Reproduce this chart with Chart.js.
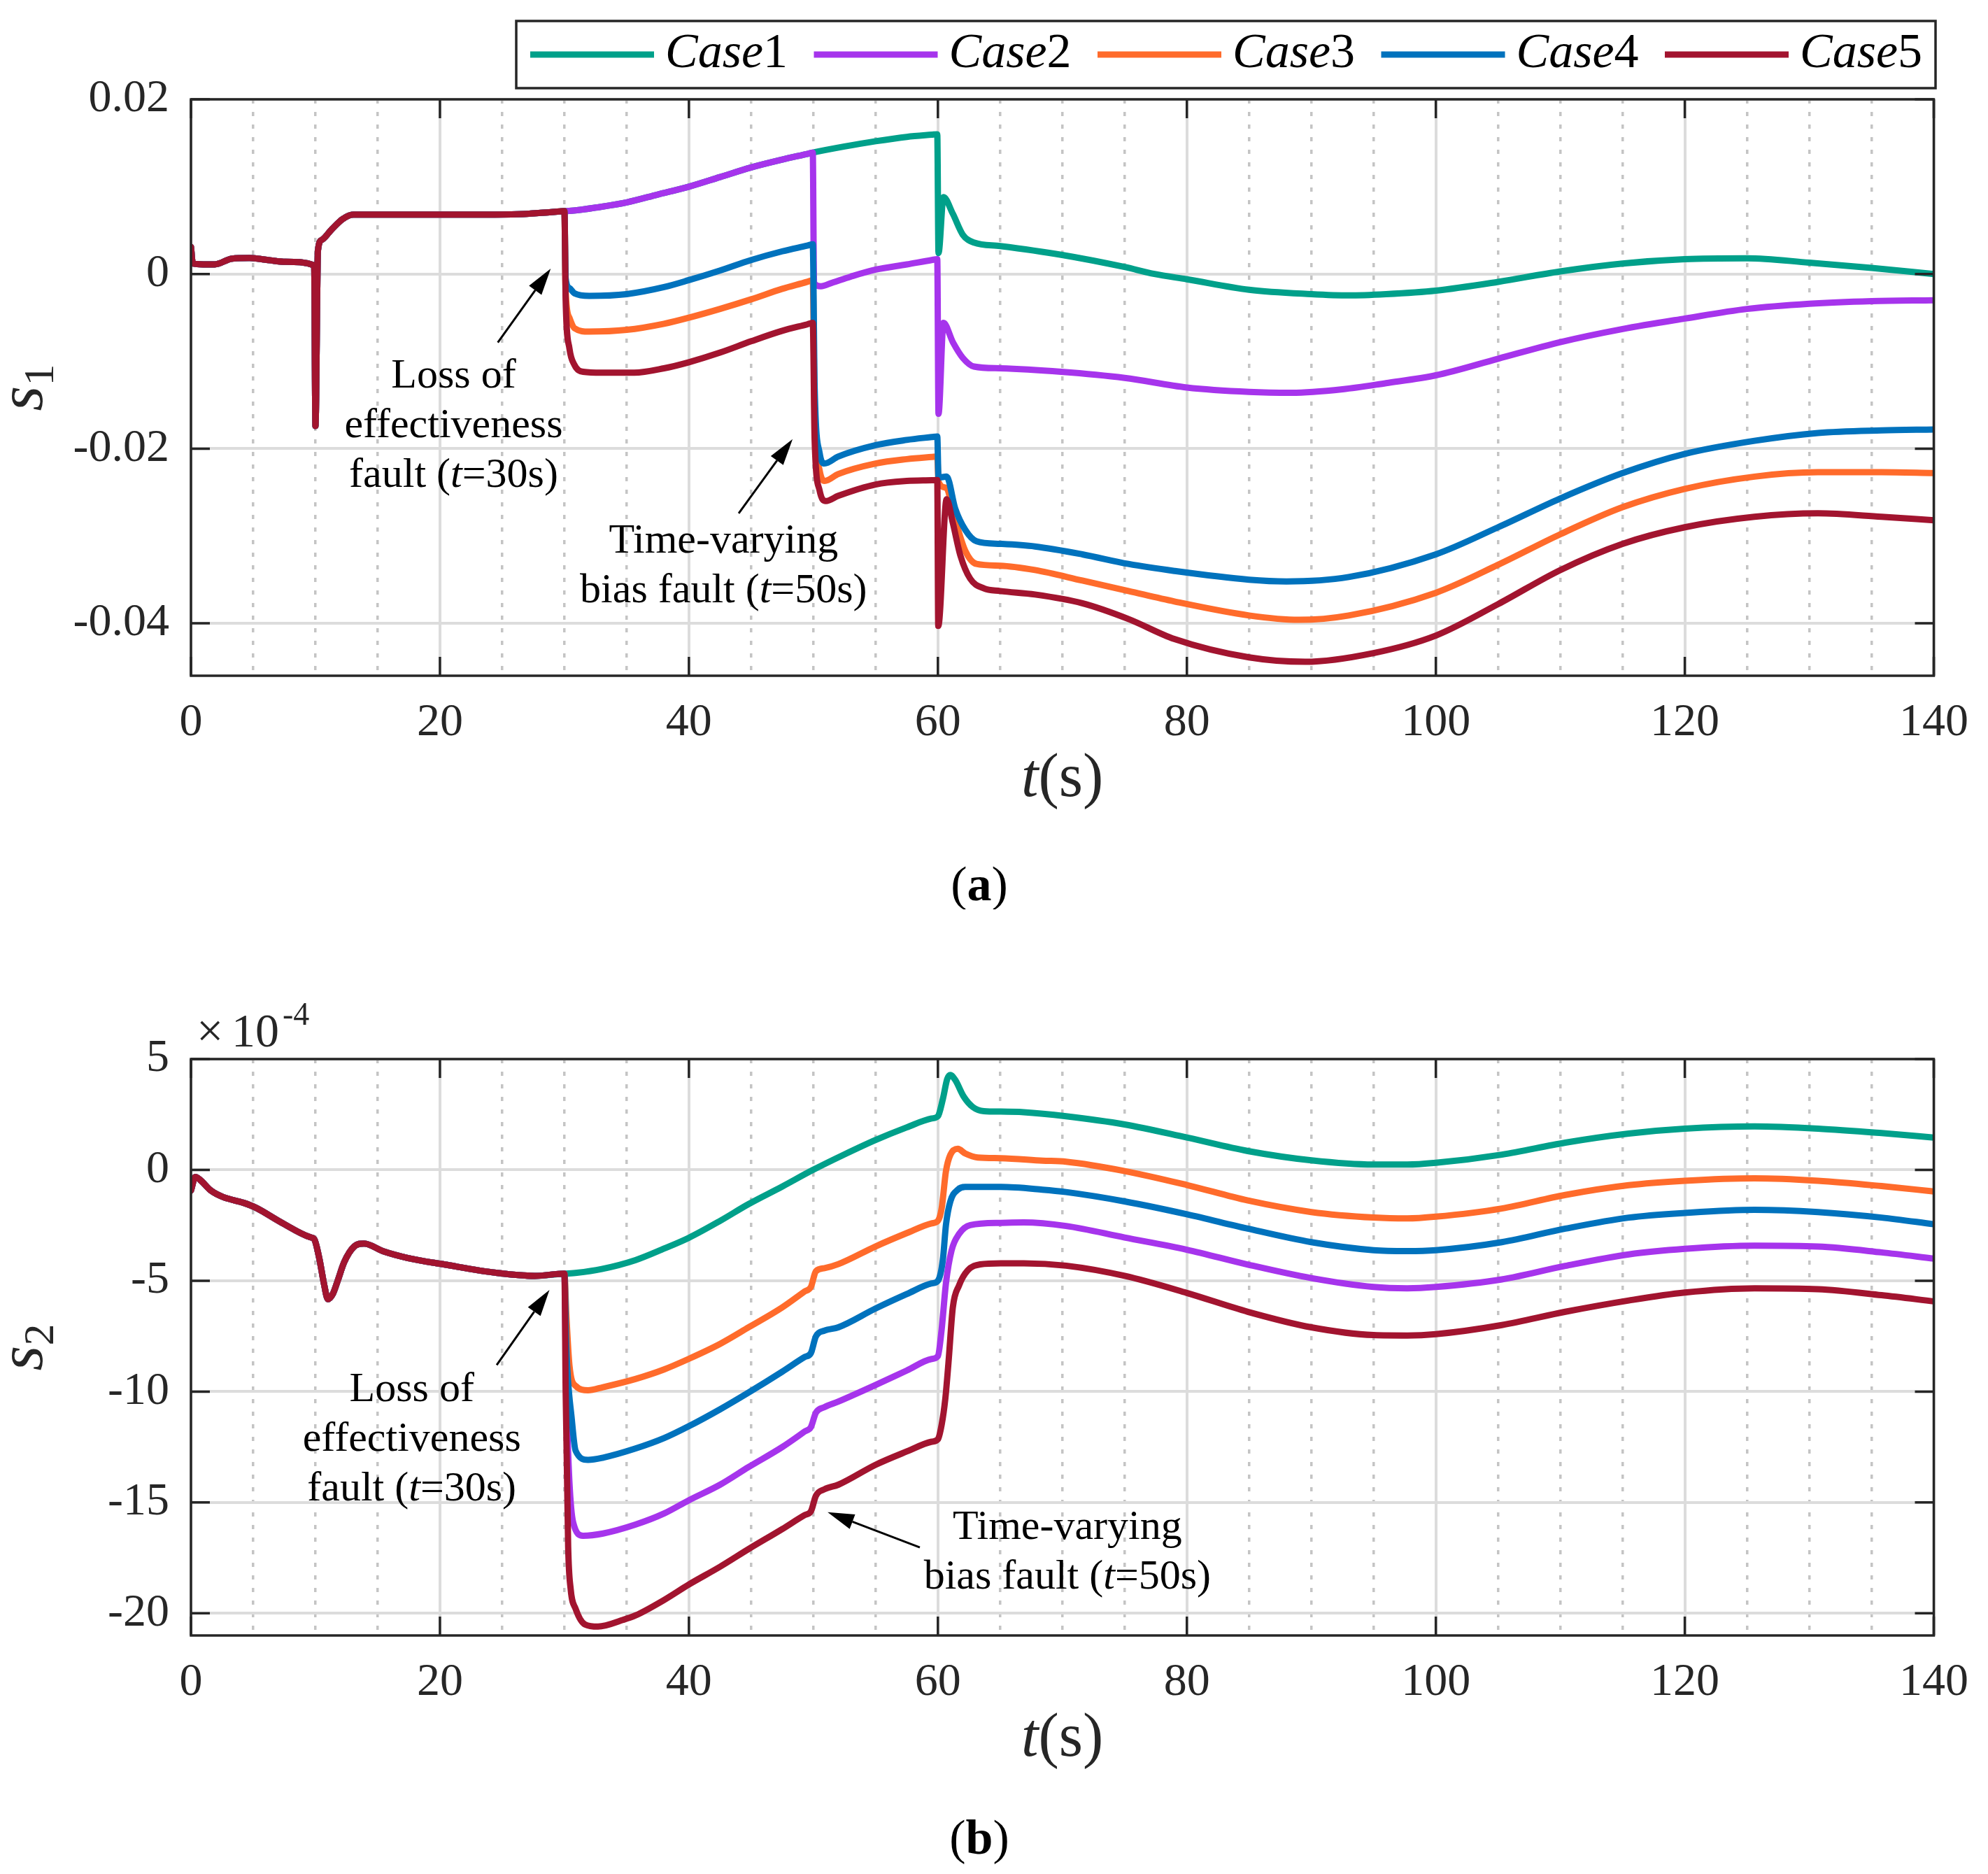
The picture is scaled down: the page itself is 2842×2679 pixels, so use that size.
<!DOCTYPE html>
<html>
<head>
<meta charset="utf-8">
<title>Sliding variables s1 and s2 under faults</title>
<script src="https://cdn.jsdelivr.net/npm/chart.js@4.4.1/dist/chart.umd.min.js"></script>
<style>
html, body { margin:0; padding:0; background:#ffffff; }
body { width:2842px; height:2679px; position:relative; overflow:hidden; }
canvas { position:absolute; left:0; }
#cA { top:0; }
#cB { top:1372px; }
</style>
</head>
<body>
<canvas id="cA" width="2842" height="1300"></canvas>
<canvas id="cB" width="2842" height="1307"></canvas>
<script>
// ================= DATA =================
const seriesNames  = ['Case1', 'Case2', 'Case3', 'Case4', 'Case5'];
const seriesColors = ['#00A08A', '#A634EC', '#FF6B2B', '#0072BD', '#A2142F'];

const xTickValues      = [0, 20, 40, 60, 80, 100, 120, 140];
const xTickLabels      = ['0', '20', '40', '60', '80', '100', '120', '140'];
const xMinorTickValues = [5, 10, 15, 25, 30, 35, 45, 50, 55, 65, 70, 75, 85, 90, 95, 105, 110, 115, 125, 130, 135];

const s1TickValues = [0.02, 0, -0.02, -0.04];
const s1TickLabels = ['0.02', '0', '-0.02', '-0.04'];
const s2TickValues = [5, 0, -5, -10, -15, -20];
const s2TickLabels = ['5', '0', '-5', '-10', '-15', '-20'];

// ---- (a) s1 : common part for all cases (t <= 30 s)
const s1PreT = [0, 0.15, 1.0, 1.9, 3.3, 4.7, 6.2, 7.6, 9.9, 10.0, 10.2, 10.5, 11.3, 12.2, 13.05, 14.8, 20, 26.3, 29.1, 30];
const s1PreV = [0.0031, 0.0012, 0.0011, 0.0011, 0.00176, 0.00184, 0.0016, 0.0014, 0.0010, -0.0174, 0.0027, 0.0039, 0.0051, 0.0063, 0.0068, 0.0068, 0.0068, 0.00685, 0.0071, 0.0072];
// ---- (a) s1 : Case1 and Case2 coincide between 30 s and 50 s
const s1RiseT = [31, 32.5, 35, 37.5, 40, 42.5, 45, 47.5, 49.5, 49.95];
const s1RiseV = [0.0073, 0.0076, 0.0082, 0.0091, 0.0100, 0.0111, 0.0122, 0.0131, 0.01375, 0.0139];
const s1Case1T = [52.5, 55, 57.5, 59.5, 59.95, 60.05, 60.45, 61.2, 62, 62.9, 65, 69.9, 75, 77.4, 80, 85, 90, 93, 96, 100, 105, 110, 115, 120, 125, 130, 135, 140];
const s1Case1V = [0.0146, 0.0152, 0.0157, 0.01595, 0.0160, 0.0024, 0.0088, 0.0069, 0.0045, 0.0036, 0.0032, 0.0022, 0.0008, 0.0000, -0.0006, -0.0018, -0.0023, -0.00245, -0.0023, -0.0019, -0.0009, 0.0003, 0.0012, 0.0017, 0.0018, 0.0013, 0.0007, 0.0000];
const s1Case2T = [50.05, 50.6, 51.5, 53, 55, 57.5, 59.5, 59.95, 60.05, 60.45, 61.2, 62, 62.9, 65, 69.9, 75, 80, 85, 88.4, 92.5, 96, 100, 105, 110, 115, 120, 125, 130, 135, 140];
const s1Case2V = [-0.0010, -0.0014, -0.0010, -0.0003, 0.0005, 0.0011, 0.0016, 0.0017, -0.0160, -0.0056, -0.0078, -0.0096, -0.0106, -0.0108, -0.0112, -0.0119, -0.0130, -0.0135, -0.0136, -0.0132, -0.0125, -0.0116, -0.0097, -0.0078, -0.0063, -0.0051, -0.0040, -0.0034, -0.0031, -0.0030];
const s1Case3T = [30.1, 30.4, 30.8, 32, 35, 38, 40, 42.5, 45, 47.5, 49.5, 49.95, 50.1, 50.5, 50.9, 52, 55, 57.5, 59.5, 59.95, 60.05, 60.65, 61.4, 62.2, 63.1, 65, 67.8, 71.6, 75.3, 79, 85, 89, 93, 100, 105, 110, 115, 120, 125.6, 130.7, 135.8, 140];
const s1Case3V = [-0.0020, -0.0050, -0.0062, -0.0066, -0.0064, -0.0057, -0.0050, -0.0040, -0.0029, -0.0017, -0.0009, -0.0007, -0.0160, -0.0225, -0.0237, -0.0229, -0.0217, -0.0212, -0.02095, -0.0209, -0.0238, -0.0245, -0.0282, -0.0317, -0.0332, -0.0334, -0.0339, -0.0351, -0.0363, -0.0375, -0.0391, -0.0396, -0.0391, -0.0365, -0.0333, -0.0298, -0.0267, -0.0246, -0.0232, -0.0227, -0.0227, -0.0228];
const s1Case4T = [30.1, 30.4, 30.8, 32, 35, 38, 40, 42.5, 45, 47.5, 49.5, 49.95, 50.1, 50.5, 50.9, 52, 55, 57.5, 59.5, 59.95, 60.05, 60.7, 61.4, 62.2, 63.1, 65, 67.8, 71.6, 75.3, 79, 85, 88, 93, 100, 105, 110, 115, 120, 125.6, 130.7, 135.8, 140];
const s1Case4V = [-0.0005, -0.0016, -0.0022, -0.0025, -0.0023, -0.0015, -0.0007, 0.0004, 0.0016, 0.0026, 0.00325, 0.0034, -0.0130, -0.0205, -0.0217, -0.0209, -0.0196, -0.0190, -0.01867, -0.0186, -0.0233, -0.0232, -0.0269, -0.0293, -0.0306, -0.0309, -0.0312, -0.0321, -0.0332, -0.0340, -0.0350, -0.0352, -0.0347, -0.0321, -0.0290, -0.0257, -0.0228, -0.0206, -0.0191, -0.0182, -0.0179, -0.0178];
const s1Case5T = [30.1, 30.4, 30.8, 31.5, 33, 35.6, 38, 40, 42.5, 45, 47.5, 49.5, 49.95, 50.1, 50.5, 51, 52, 55, 57.5, 59.5, 59.95, 60.03, 60.7, 61.2, 61.8, 62.6, 63.7, 65, 67.8, 71.6, 75.3, 79, 85, 89.5, 95, 100, 105, 110, 115, 120, 125.6, 130.7, 135.8, 140];
const s1Case5V = [-0.0030, -0.0085, -0.0104, -0.0112, -0.0113, -0.0113, -0.0108, -0.0101, -0.0090, -0.0077, -0.0065, -0.00577, -0.0056, -0.0190, -0.0248, -0.0260, -0.0254, -0.0241, -0.0237, -0.02362, -0.0236, -0.0403, -0.0258, -0.0285, -0.0322, -0.0349, -0.0360, -0.0363, -0.0367, -0.0377, -0.0395, -0.0418, -0.0439, -0.0444, -0.0434, -0.0414, -0.0378, -0.0339, -0.0309, -0.0290, -0.0278, -0.0274, -0.0278, -0.0282];

// ---- (b) s2, values in units of 1e-4 : common part (t <= 30 s)
const s2PreT = [0, 0.35, 0.7, 1.6, 2.6, 4.2, 5.2, 7.2, 9.6, 9.9, 10.3, 10.7, 11.0, 11.4, 11.8, 12.3, 13.1, 13.9, 15.4, 17.4, 20.4, 24.5, 27.6, 30];
const s2PreV = [-0.93, -0.32, -0.43, -0.93, -1.23, -1.48, -1.70, -2.35, -3.04, -3.12, -3.97, -5.18, -5.83, -5.59, -4.98, -4.17, -3.46, -3.32, -3.66, -3.97, -4.27, -4.64, -4.78, -4.68];
const s2Case1T = [31, 33, 35.7, 38, 40, 42.5, 44.8, 47.5, 49.9, 52.5, 55, 57.5, 59.5, 60, 60.4, 60.75, 61.0, 61.4, 62.06, 62.8, 63.7, 65.05, 66.9, 70.3, 75, 80, 84.9, 90, 95, 97.7, 100, 105.3, 110.4, 115.5, 120, 125.6, 130.7, 135.8, 140];
const s2Case1V = [-4.64, -4.47, -4.07, -3.55, -3.06, -2.30, -1.54, -0.75, -0.02, 0.70, 1.35, 1.92, 2.32, 2.42, 3.20, 4.10, 4.28, 4.05, 3.32, 2.84, 2.65, 2.63, 2.60, 2.42, 2.05, 1.46, 0.85, 0.43, 0.24, 0.24, 0.32, 0.69, 1.23, 1.64, 1.86, 1.96, 1.86, 1.66, 1.46];
const s2Case2T = [30.15, 30.7, 31.5, 33.1, 35.7, 38, 40, 42.5, 44.8, 47.5, 49.3, 49.8, 50.2, 50.9, 52, 55, 57.5, 59.5, 60, 60.3, 60.65, 61.1, 61.7, 62.6, 65.05, 66.9, 70.3, 75, 80, 84.9, 90, 95, 97.7, 100, 105.3, 110.4, 115.5, 120, 125.6, 130.7, 135.8, 140];
const s2Case2V = [-10.0, -15.9, -16.5, -16.4, -16.0, -15.5, -14.9, -14.2, -13.4, -12.5, -11.8, -11.6, -10.95, -10.7, -10.45, -9.70, -9.05, -8.53, -8.40, -7.2, -5.1, -3.63, -2.89, -2.49, -2.39, -2.37, -2.53, -3.05, -3.60, -4.27, -4.88, -5.28, -5.34, -5.28, -4.94, -4.33, -3.81, -3.56, -3.42, -3.46, -3.72, -4.00];
const s2Case3T = [30.15, 30.4, 30.9, 31.9, 33.1, 35.7, 38, 40, 42.5, 44.8, 47.5, 49.3, 49.8, 50.2, 50.9, 52, 55, 57.5, 59.5, 60, 60.3, 60.65, 61.0, 61.6, 62.2, 63.2, 65.05, 68.4, 70.3, 75, 80, 84.9, 90, 95, 97.7, 100, 105.3, 110.4, 115.5, 120, 125.6, 130.7, 135.8, 140];
const s2Case3V = [-6.5, -8.8, -9.74, -9.94, -9.80, -9.43, -9.00, -8.52, -7.85, -7.10, -6.20, -5.48, -5.28, -4.57, -4.43, -4.25, -3.45, -2.85, -2.41, -2.30, -1.74, -0.05, 0.68, 0.95, 0.74, 0.56, 0.53, 0.42, 0.37, -0.05, -0.68, -1.38, -1.90, -2.15, -2.19, -2.11, -1.74, -1.13, -0.69, -0.49, -0.38, -0.49, -0.73, -0.97];
const s2Case4T = [30.15, 30.6, 30.9, 31.9, 33.1, 35.7, 38, 40, 42.5, 44.8, 47.5, 49.3, 49.8, 50.2, 50.9, 52, 55, 57.5, 59.5, 60, 60.4, 60.65, 61, 61.6, 62.2, 65.05, 68.4, 70.3, 75, 80, 84.9, 90, 95, 97.7, 100, 105.3, 110.4, 115.5, 120, 125.6, 130.7, 135.8, 140];
const s2Case4V = [-8.0, -11.3, -12.67, -13.08, -12.98, -12.57, -12.10, -11.56, -10.80, -10.04, -9.10, -8.44, -8.26, -7.51, -7.25, -7.10, -6.25, -5.60, -5.12, -5.00, -4.05, -2.47, -1.42, -0.89, -0.77, -0.77, -0.89, -1.00, -1.42, -2.00, -2.65, -3.26, -3.62, -3.66, -3.62, -3.26, -2.65, -2.15, -1.94, -1.80, -1.90, -2.15, -2.45];
const s2Case5T = [30.1, 30.3, 30.5, 30.9, 31.65, 32.7, 34.7, 35.7, 38, 40, 42.5, 44.8, 47.5, 49.3, 49.8, 50.2, 50.9, 52, 55, 57.5, 59.5, 60, 60.3, 60.6, 60.85, 61.2, 61.7, 62.4, 63.4, 65.05, 66.9, 70.3, 75, 80, 84.9, 90, 95, 97.7, 100, 105.3, 110.4, 115.5, 120, 125.6, 130.7, 135.8, 140];
const s2Case5V = [-10.0, -17.0, -18.9, -19.8, -20.5, -20.6, -20.3, -20.1, -19.4, -18.7, -17.9, -17.1, -16.2, -15.57, -15.4, -14.7, -14.4, -14.2, -13.3, -12.70, -12.26, -12.15, -11.5, -10.3, -8.7, -6.2, -5.21, -4.53, -4.26, -4.21, -4.21, -4.32, -4.78, -5.55, -6.40, -7.10, -7.45, -7.47, -7.41, -7.00, -6.40, -5.89, -5.53, -5.34, -5.38, -5.65, -5.93];

// ---- annotation texts and their anchors (data units)
const noteLoss = [[['Loss of', 'n']], [['effectiveness', 'n']], [['fault (', 'n'], ['t', 'i'], ['=30s)', 'n']]];
const noteBias = [[['Time-varying', 'n']], [['bias fault (', 'n'], ['t', 'i'], ['=50s)', 'n']]];
const annoA = {
  texts:  [{ at: [21.1, -0.01296], lines: noteLoss }, { at: [42.78, -0.03188], lines: noteBias }],
  arrows: [{ from: [24.65, -0.00785], to: [28.9, 0.00061] }, { from: [44.0, -0.0274], to: [48.33, -0.0189] }]
};
const annoB = {
  texts:  [{ at: [17.74, -10.44], lines: noteLoss }, { at: [70.4, -16.65], lines: noteBias }],
  arrows: [{ from: [24.56, -8.80], to: [28.8, -5.41] }, { from: [58.55, -17.03], to: [51.14, -15.44] }]
};

// ================= RENDERING =================
const SERIF = '"Liberation Serif", "Times New Roman", Times, serif';
const AXIS_COLOR = '#262626';

function fontStr(style, size) {
  return (style === 'i' ? 'italic ' : style === 'b' ? 'bold ' : '') + size + 'px ' + SERIF;
}
function drawRich(ctx, segs, x, y, size, align, color) {
  const ws = segs.map(([s, st]) => { ctx.font = fontStr(st, size); return ctx.measureText(s).width; });
  const total = ws.reduce((a, b) => a + b, 0);
  let cx = align === 'center' ? x - total / 2 : x;
  ctx.textAlign = 'left';
  ctx.textBaseline = 'alphabetic';
  ctx.fillStyle = color;
  segs.forEach(([s, st], k) => { ctx.font = fontStr(st, size); ctx.fillText(s, cx, y); cx += ws[k]; });
}
function drawArrow(ctx, x1, y1, x2, y2) {
  const ang = Math.atan2(y2 - y1, x2 - x1);
  const hl = 38, hw = 11;
  const bx = x2 - hl * Math.cos(ang), by = y2 - hl * Math.sin(ang);
  ctx.strokeStyle = '#000'; ctx.fillStyle = '#000'; ctx.lineWidth = 3;
  ctx.beginPath(); ctx.moveTo(x1, y1); ctx.lineTo(bx, by); ctx.stroke();
  ctx.beginPath();
  ctx.moveTo(x2, y2);
  ctx.lineTo(bx + hw * Math.sin(ang), by - hw * Math.cos(ang));
  ctx.lineTo(bx - hw * Math.sin(ang), by + hw * Math.cos(ang));
  ctx.closePath(); ctx.fill();
}

const decorPlugin = {
  id: 'decor',
  afterDraw(chart, args, o) {
    const { ctx, chartArea: a, scales } = chart;
    const xs = scales.x, ys = scales.y;
    ctx.save();
    // inward ticks on all four sides + box
    ctx.strokeStyle = AXIS_COLOR; ctx.lineWidth = 3.5; ctx.lineCap = 'butt';
    const tl = 27;
    ctx.beginPath();
    xs.ticks.forEach(t => {
      const px = xs.getPixelForValue(t.value);
      ctx.moveTo(px, a.bottom); ctx.lineTo(px, a.bottom - tl);
      ctx.moveTo(px, a.top); ctx.lineTo(px, a.top + tl);
    });
    ys.ticks.forEach(t => {
      const py = ys.getPixelForValue(t.value);
      ctx.moveTo(a.left, py); ctx.lineTo(a.left + tl, py);
      ctx.moveTo(a.right, py); ctx.lineTo(a.right - tl, py);
    });
    ctx.stroke();
    ctx.strokeRect(a.left, a.top, a.right - a.left, a.bottom - a.top);

    // annotations
    o.anno.texts.forEach(tx => {
      const cx = xs.getPixelForValue(tx.at[0]);
      const by = ys.getPixelForValue(tx.at[1]);
      tx.lines.forEach((ln, k) => drawRich(ctx, ln, cx, by + k * 71, 60, 'center', '#000'));
    });
    o.anno.arrows.forEach(ar => {
      drawArrow(ctx, xs.getPixelForValue(ar.from[0]), ys.getPixelForValue(ar.from[1]),
                     xs.getPixelForValue(ar.to[0]), ys.getPixelForValue(ar.to[1]));
    });

    // x axis title t(s)
    drawRich(ctx, [['t', 'i'], ['(s)', 'n']], (a.left + a.right) / 2, 1138, 88, 'center', AXIS_COLOR);
    // y axis title s_n (rotated)
    ctx.save();
    ctx.translate(40, (a.top + a.bottom) / 2);
    ctx.rotate(-Math.PI / 2);
    ctx.font = fontStr('i', 92);
    const wS = ctx.measureText('s').width;
    ctx.font = fontStr('n', 62);
    const wN = ctx.measureText(o.sub).width;
    const x0 = -(wS + wN) / 2;
    ctx.fillStyle = AXIS_COLOR; ctx.textAlign = 'left'; ctx.textBaseline = 'alphabetic';
    ctx.font = fontStr('i', 92); ctx.fillText('s', x0, 20);
    ctx.font = fontStr('n', 62); ctx.fillText(o.sub, x0 + wS, 36);
    ctx.restore();

    // caption
    drawRich(ctx, [['(', 'n'], [o.caption, 'b'], [')', 'n']], 1400, o.captionY, 70, 'center', '#000');

    // exponent label
    if (o.exponent) {
      drawRich(ctx, [['\u00D7', 'n']], 281, 124, 68, 'left', AXIS_COLOR);
      drawRich(ctx, [['10', 'n']], 331, 124, 68, 'left', AXIS_COLOR);
      drawRich(ctx, [[o.exponent, 'n']], 404, 93, 46, 'left', AXIS_COLOR);
    }

    // legend
    if (o.legend) {
      ctx.fillStyle = '#fff';
      ctx.fillRect(738, 30, 2029, 96);
      ctx.strokeStyle = AXIS_COLOR; ctx.lineWidth = 3.5;
      ctx.strokeRect(738, 30, 2029, 96);
      chart.data.datasets.forEach((ds, i) => {
        const lx = 758 + i * 405.5;
        ctx.strokeStyle = ds.borderColor; ctx.lineWidth = 9;
        ctx.beginPath(); ctx.moveTo(lx, 78); ctx.lineTo(lx + 177, 78); ctx.stroke();
        const m = ds.label.match(/^(\D+)(\d+)$/);
        drawRich(ctx, [[m[1], 'i'], [m[2], 'n']], 951 + i * 405.5, 96, 70, 'left', '#000');
      });
    }
    ctx.restore();
  }
};

function pts(tArr, vArr) { return tArr.map((t, k) => ({ x: t, y: vArr[k] })); }

function makeDatasets(parts) {
  return parts.map((p, i) => ({
    label: seriesNames[i],
    data: p,
    borderColor: seriesColors[i],
    backgroundColor: seriesColors[i],
    borderWidth: 9,
    pointRadius: 0,
    pointHoverRadius: 0,
    fill: false,
    cubicInterpolationMode: 'monotone',
    borderJoinStyle: 'round',
    borderCapStyle: 'round',
    order: parts.length - 1 - i
  }));
}

function makeChart(id, datasets, yMin, yMax, yTicks, yLabels, decor) {
  const cv = document.getElementById(id);
  const H = cv.height;
  const tickFont = { family: SERIF, size: 66 };
  return new Chart(cv, {
    type: 'line',
    data: { datasets },
    plugins: [decorPlugin],
    options: {
      responsive: false,
      animation: false,
      events: [],
      layout: { padding: { top: 142, right: 75, left: 0, bottom: 0 } },
      plugins: { legend: { display: false }, tooltip: { enabled: false }, decor },
      scales: {
        x: {
          type: 'linear', position: 'bottom', min: 0, max: 140,
          afterBuildTicks: s => { s.ticks = xTickValues.map(v => ({ value: v })); },
          afterFit: s => { s.height = H - 966; },
          ticks: { font: tickFont, color: AXIS_COLOR, padding: 28, maxRotation: 0, autoSkip: false,
                   callback: (v, i) => xTickLabels[i] },
          grid: { color: '#dcdcdc', lineWidth: 4, drawTicks: false },
          border: { display: false }
        },
        xm: {
          type: 'linear', position: 'top', min: 0, max: 140,
          afterBuildTicks: s => { s.ticks = xMinorTickValues.map(v => ({ value: v })); },
          afterFit: s => { s.height = 0; },
          ticks: { display: false },
          grid: { color: '#c4c4c4', lineWidth: 3.5, drawTicks: false },
          border: { display: false, dash: [6, 12] }
        },
        y: {
          type: 'linear', position: 'left', min: yMin, max: yMax,
          afterBuildTicks: s => { s.ticks = yTicks.map(v => ({ value: v })); },
          afterFit: s => { s.width = 273; },
          ticks: { font: tickFont, color: AXIS_COLOR, padding: 31, callback: (v, i) => yLabels[i] },
          grid: { color: '#dcdcdc', lineWidth: 4, drawTicks: false },
          border: { display: false }
        }
      }
    }
  });
}

const s1Pre = pts(s1PreT, s1PreV);
const s1Rise = pts(s1RiseT, s1RiseV);
const dsA = makeDatasets([
  s1Pre.concat(s1Rise, pts(s1Case1T, s1Case1V)),
  s1Pre.concat(s1Rise, pts(s1Case2T, s1Case2V)),
  s1Pre.concat(pts(s1Case3T, s1Case3V)),
  s1Pre.concat(pts(s1Case4T, s1Case4V)),
  s1Pre.concat(pts(s1Case5T, s1Case5V))
]);
const s2Pre = pts(s2PreT, s2PreV);
const dsB = makeDatasets([
  s2Pre.concat(pts(s2Case1T, s2Case1V)),
  s2Pre.concat(pts(s2Case2T, s2Case2V)),
  s2Pre.concat(pts(s2Case3T, s2Case3V)),
  s2Pre.concat(pts(s2Case4T, s2Case4V)),
  s2Pre.concat(pts(s2Case5T, s2Case5V))
]);

makeChart('cA', dsA, -0.046, 0.02, s1TickValues, s1TickLabels,
  { anno: annoA, sub: '1', caption: 'a', captionY: 1287, legend: true, exponent: null });
makeChart('cB', dsB, -21, 5, s2TickValues, s2TickLabels,
  { anno: annoB, sub: '2', caption: 'b', captionY: 1278, legend: false, exponent: '-4' });
</script>
</body>
</html>
